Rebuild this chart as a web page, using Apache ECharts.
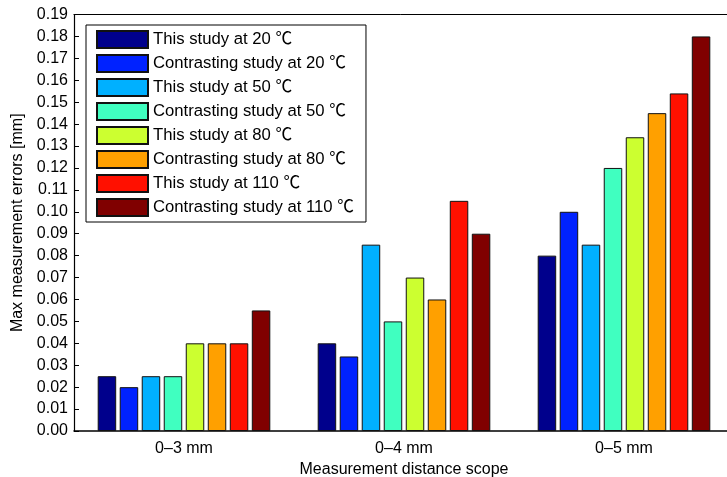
<!DOCTYPE html>
<html>
<head>
<meta charset="utf-8">
<script src="https://cdn.jsdelivr.net/npm/echarts@6/dist/echarts.min.js"></script>
<style>
  html, body { margin: 0; padding: 0; background: #fff; }
  #chart { width: 727px; height: 477px; }
</style>
</head>
<body>
<div id="chart"></div>
<script>
// Distance ranges along the x axis
var categories = ['0\u20133 mm', '0\u20134 mm', '0\u20135 mm'];

// Series names (legend entries)
var seriesNames = [
  'This study at 20 \u2103',
  'Contrasting study at 20 \u2103',
  'This study at 50 \u2103',
  'Contrasting study at 50 \u2103',
  'This study at 80 \u2103',
  'Contrasting study at 80 \u2103',
  'This study at 110 \u2103',
  'Contrasting study at 110 \u2103'
];

// Max measurement errors [mm] per series, one value per distance range
var this20 = [0.025, 0.040, 0.080];
var contrast20 = [0.020, 0.034, 0.100];
var this50 = [0.025, 0.085, 0.085];
var contrast50 = [0.025, 0.050, 0.120];
var this80 = [0.040, 0.070, 0.134];
var contrast80 = [0.040, 0.060, 0.145];
var this110 = [0.040, 0.105, 0.154];
var contrast110 = [0.055, 0.090, 0.180];

var seriesValues = [this20, contrast20, this50, contrast50, this80, contrast80, this110, contrast110];

// Jet-style palette
var colors = ['#00008C', '#0022FF', '#00B0FF', '#40FFC0', '#CCFF30', '#FFA000', '#FF1000', '#800000'];

var fontFamily = 'Liberation Sans, Arial, Helvetica, "Noto Sans CJK SC", sans-serif';

var chart = echarts.init(document.getElementById('chart'), null, { renderer: 'canvas' });

var series = seriesNames.map(function (name, i) {
  return {
    name: name,
    type: 'bar',
    data: seriesValues[i],
    barWidth: 18.5,
    barGap: '19%',
    itemStyle: { color: colors[i], borderColor: '#111', borderWidth: 1 },
    emphasis: { disabled: true },
    animation: false
  };
});

chart.setOption({
  animation: false,
  textStyle: { fontFamily: fontFamily },
  // plot box runs past the right edge of the canvas, so the right axis is clipped
  grid: { left: 74, top: 14.5, width: 660, bottom: 46, outerBoundsMode: 'none', containLabel: false },
  legend: {
    orient: 'vertical',
    left: 86,
    top: 25,
    itemWidth: 51,
    itemHeight: 17,
    itemGap: 5,
    padding: [5, 12, 5, 10],
    backgroundColor: '#fff',
    borderColor: '#000',
    borderWidth: 1,
    icon: 'rect',
    selectedMode: false,
    textStyle: { fontSize: 16.7, color: '#000', fontFamily: fontFamily },
    data: seriesNames
  },
  xAxis: [
    {
      type: 'category',
      data: categories,
      position: 'bottom',
      axisLine: { lineStyle: { color: '#000', width: 1.5 } },
      axisTick: { inside: true, length: 5, alignWithLabel: true, lineStyle: { color: '#555' } },
      axisLabel: { color: '#000', fontSize: 16, margin: 10 },
      name: 'Measurement distance scope',
      nameLocation: 'middle',
      nameGap: 27,
      nameTextStyle: { color: '#000', fontSize: 16 }
    },
    {
      type: 'category',
      data: categories,
      position: 'top',
      axisLine: { lineStyle: { color: '#000', width: 1 } },
      axisTick: { inside: true, length: 5, alignWithLabel: true, lineStyle: { color: '#555' } },
      axisLabel: { show: false }
    }
  ],
  yAxis: {
    type: 'value',
    min: 0,
    max: 0.19,
    interval: 0.01,
    axisLine: { show: true, lineStyle: { color: '#000', width: 1.2 } },
    axisTick: { show: true, inside: true, length: 5, lineStyle: { color: '#000' } },
    splitLine: { show: false },
    axisLabel: {
      color: '#000',
      fontSize: 16,
      margin: 6,
      formatter: function (v) { return v.toFixed(2); }
    },
    name: 'Max measurement errors [mm]',
    nameLocation: 'middle',
    nameGap: 43,
    nameRotate: 90,
    nameTextStyle: { color: '#000', fontSize: 16 }
  },
  series: series
});
</script>
</body>
</html>
